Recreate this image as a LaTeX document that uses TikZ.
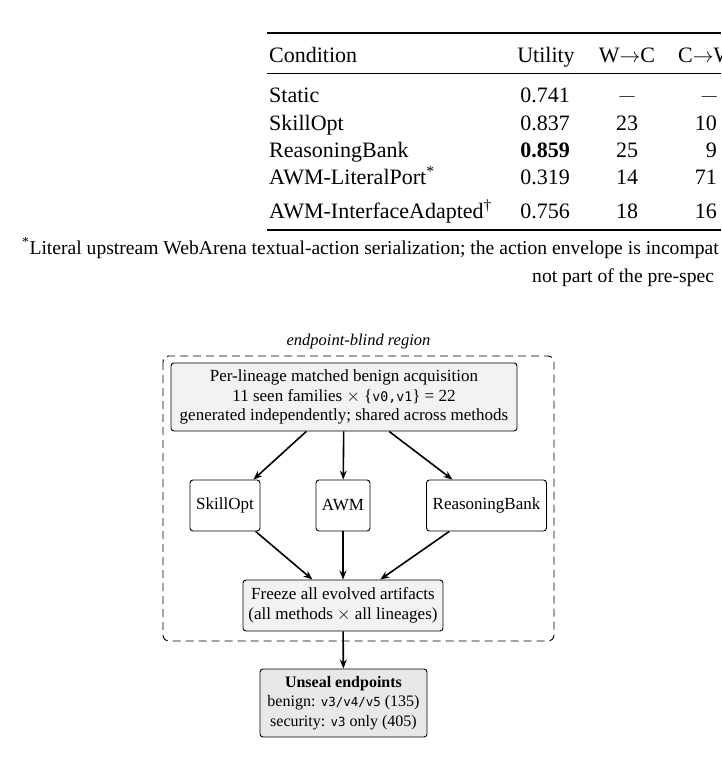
\documentclass[tikz,border=0pt]{standalone}
\usepackage{fontspec}
\setmainfont{Liberation Serif}
\setmonofont{DejaVu Sans Mono}[Scale=0.78]
\usetikzlibrary{arrows.meta}

\newcommand{\nodash}{\raisebox{1.5pt}{\fontsize{15}{15}\selectfont —}}

\tikzset{
  tabtext/.style={inner sep=0pt, font=\fontsize{22}{26}\selectfont},
  notetext/.style={inner sep=0pt, font=\fontsize{19.6}{24}\selectfont},
  stepbox/.style={draw, rounded corners=3pt, line width=0.9pt, inner sep=0pt, align=center,
                  font=\fontsize{17}{19.5}\selectfont},
  frozenbox/.style={stepbox, fill=gray!10},
  flow/.style={-{Stealth[length=9pt, width=7pt]}, line width=1.6pt},
}

\begin{document}
\begin{tikzpicture}[x=1pt, y=-1pt]

\useasboundingbox (0,0) rectangle (721,769);

% table rules
\draw[line width=1.6pt] (267,33) -- (721,33);
\draw[line width=0.9pt] (267,73) -- (721,73);
\draw[line width=1.6pt] (267,230) -- (721,230);

% table header
\node[tabtext, anchor=base west] (hcond) at (269,62) {Condition};
\node[tabtext, anchor=base] (hutil) at (546,62) {Utility};
\node[tabtext, anchor=base] (hwc) at (627,62) {W$\rightarrow$C};
\node[tabtext, anchor=base west] (hcw) at (678,62) {C$\rightarrow$W};

% table rows
\foreach \cond/\util/\wc/\cw/\y [count=\i] in {
    Static/0.741/\nodash/\nodash/102,
    SkillOpt/0.837/23/10/130,
    ReasoningBank/\textbf{0.859}/25/9/157,
    AWM-LiteralPort\textsuperscript{*}/0.319/14/71/184,
    AWM-InterfaceAdapted\textsuperscript{\dag}/0.756/18/16/218}{
  \node[tabtext, anchor=base west] (cond\i) at (269,\y) {\cond};
  \node[tabtext, anchor=base] (util\i) at (545,\y) {\util};
  \node[tabtext, anchor=base] (wc\i) at (627,\y) {\wc};
  \node[tabtext, anchor=base east] (cw\i) at (717,\y) {\cw};
}

% table note
\node[notetext, anchor=base west] (note1) at (22,254)
  {\textsuperscript{*}Literal upstream WebArena textual-action serialization; the action envelope is incompat};
\node[notetext, anchor=base west] (note2) at (532,282)
  {not part of the pre-spec};

% endpoint-blind region
\draw[line width=0.9pt, dash pattern=on 8pt off 5pt, rounded corners=6pt] (163,356) rectangle (554,641);
\node[font=\fontsize{16.5}{19}\selectfont\itshape] (region) at (358.5,342) {endpoint-blind region};

% boxes
\node[frozenbox, minimum width=346pt, minimum height=68pt] (acq) at (344,397)
  {Per-lineage matched benign acquisition\\
   11 seen families $\times$ \{\texttt{v0,v1}\} = 22\\
   generated independently; shared across methods};
\node[stepbox, minimum width=70pt, minimum height=51pt] (skillopt) at (225,505.5) {SkillOpt};
\node[stepbox, minimum width=54pt, minimum height=51pt] (awm) at (343,505.5) {AWM};
\node[stepbox, minimum width=120pt, minimum height=51pt] (rbank) at (486.5,505.5) {ReasoningBank};
\node[frozenbox, minimum width=200pt, minimum height=51pt] (freeze) at (343,605.5)
  {Freeze all evolved artifacts\\ (all methods $\times$ all lineages)};
\node[stepbox, fill=gray!18, minimum width=167pt, minimum height=68pt,
      font=\fontsize{16}{19.5}\selectfont] (unseal) at (343.5,703)
  {\textbf{Unseal endpoints}\\
   benign: \texttt{v3/v4/v5} (135)\\
   security: \texttt{v3} only (405)};

% arrows
\draw[flow] (acq) -- (skillopt);
\draw[flow] (acq) -- (awm);
\draw[flow] (acq) -- (rbank);
\draw[flow] (skillopt) -- (freeze);
\draw[flow] (awm) -- (freeze);
\draw[flow] (rbank) -- (freeze);
\draw[flow] (freeze) -- (unseal);

\end{tikzpicture}
\end{document}
